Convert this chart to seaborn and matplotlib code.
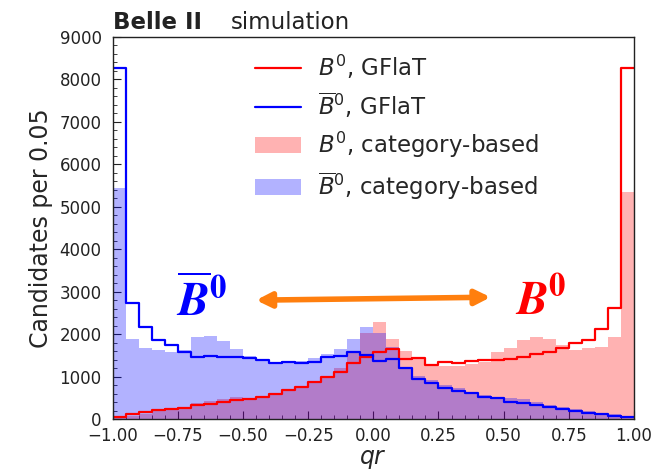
import numpy as np
import pandas as pd
import matplotlib
matplotlib.use('Agg')
import matplotlib.pyplot as plt
import seaborn as sns
from matplotlib.lines import Line2D
from matplotlib.patches import Patch

# 40 bins of width 0.05 on qr in [-1, 1]
bin_edges = np.linspace(-1.0, 1.0, 41)
bin_centers = 0.5 * (bin_edges[:-1] + bin_edges[1:])

# B0, GFlaT (red step)
b0_gflat = [54, 110, 165, 205, 229, 252, 323, 362, 402, 441,
            473, 528, 591, 686, 749, 883, 980, 1110, 1316, 1473,
            1570, 1655, 1420, 1435, 1277, 1355, 1331, 1379, 1395, 1385,
            1411, 1458, 1537, 1576, 1671, 1789, 1852, 2130, 2617, 8267]

# B0bar, GFlaT (blue step)
b0bar_gflat = [8270, 2740, 2160, 1868, 1750, 1576, 1458, 1489, 1458, 1458,
               1435, 1380, 1316, 1348, 1332, 1350, 1455, 1495, 1590, 1505,
               1365, 1411, 1200, 940, 843, 725, 670, 607, 528, 505,
               410, 370, 331, 276, 229, 189, 150, 110, 71, 40]

# B0, category-based (red fill)
b0_cat = [40, 80, 130, 180, 210, 240, 380, 420, 470, 510,
          500, 540, 600, 680, 750, 870, 980, 1198, 1560, 2030,
          2286, 1884, 1600, 1435, 1277, 1245, 1260, 1300, 1340, 1591,
          1671, 1852, 1931, 1884, 1749, 1631, 1671, 1700, 1940, 5350]

# B0bar, category-based (blue fill)
b0bar_cat = [5430, 1891, 1671, 1631, 1591, 1615, 1931, 1962, 1828, 1647,
             1489, 1418, 1355, 1379, 1379, 1434, 1528, 1655, 1891, 2159,
             2026, 1695, 1198, 1017, 922, 804, 725, 646, 567, 528,
             488, 473, 410, 331, 276, 229, 189, 150, 110, 55]

labels = [r'$B^0$, GFlaT', r'$\overline{B}^0$, GFlaT',
          r'$B^0$, category-based', r'$\overline{B}^0$, category-based']

df = pd.DataFrame({'qr': bin_centers, 'b0_gflat': b0_gflat,
                   'b0bar_gflat': b0bar_gflat, 'b0_cat': b0_cat,
                   'b0bar_cat': b0bar_cat})
edges = list(bin_edges)

sns.set_style('ticks')
plt.rcParams['font.family'] = ['DejaVu Sans']
# Times-like bold italic math for the big B labels only (math_fontfamily='custom')
plt.rcParams['mathtext.it'] = 'STIXGeneral:italic:bold'
plt.rcParams['mathtext.rm'] = 'STIXGeneral:bold'
plt.rcParams['mathtext.bf'] = 'STIXGeneral:bold'

fig = plt.figure(figsize=(6.59, 4.73), dpi=100)
ax = fig.add_axes([0.171, 0.114, 0.791, 0.808])

# filled histograms first, then step outlines
sns.histplot(data=df, x='qr', weights='b0_cat', bins=edges, element='bars',
             color='red', alpha=0.3, linewidth=0, ax=ax)
sns.histplot(data=df, x='qr', weights='b0bar_cat', bins=edges, element='bars',
             color='blue', alpha=0.3, linewidth=0, ax=ax)
sns.histplot(data=df, x='qr', weights='b0_gflat', bins=edges, element='step',
             fill=False, color='red', linewidth=1.6, ax=ax)
sns.histplot(data=df, x='qr', weights='b0bar_gflat', bins=edges, element='step',
             fill=False, color='blue', linewidth=1.6, ax=ax)

ax.set_xlim(-1, 1)
ax.set_ylim(0, 9000)
ax.set_xticks([-1, -0.75, -0.5, -0.25, 0, 0.25, 0.5, 0.75, 1])
ax.set_xticklabels(['−1.00', '−0.75', '−0.50', '−0.25', '0.00', '0.25', '0.50', '0.75', '1.00'])
ax.set_xticks(np.arange(-1, 1.001, 0.05), minor=True)
ax.set_yticks(np.arange(0, 9001, 1000))
ax.set_yticks(np.arange(0, 9001, 200), minor=True)
ax.tick_params(which='both', direction='in', labelsize=12, colors='#222222')
ax.tick_params(which='major', length=6)
ax.tick_params(which='minor', length=3)
ax.tick_params(axis='y', which='major', pad=8)
ax.tick_params(axis='x', which='major', pad=6)
for s in ax.spines.values():
    s.set_color('#222222')
    s.set_linewidth(1.0)

ax.set_xlabel(r'$qr$', fontsize=17, labelpad=1)
ax.set_ylabel('Candidates per 0.05', fontsize=17, labelpad=5)

ax.text(0.0, 1.008, 'Belle II', transform=ax.transAxes, fontsize=16.5,
        fontweight='bold', ha='left', va='bottom', color='#222222')
ax.text(0.227, 1.008, 'simulation', transform=ax.transAxes, fontsize=16.5,
        ha='left', va='bottom', color='#222222')

handles = [Line2D([], [], color='red', lw=1.6),
           Line2D([], [], color='blue', lw=1.6),
           Patch(facecolor='red', alpha=0.3, edgecolor='none'),
           Patch(facecolor='blue', alpha=0.3, edgecolor='none')]
ax.legend(handles, labels, loc='upper center', bbox_to_anchor=(0.546, 1.012),
          frameon=False, fontsize=16.5, handlelength=2.0, labelspacing=0.42,
          handletextpad=0.75)

ax.annotate('', xy=(0.45, 2870), xytext=(-0.45, 2800),
            arrowprops=dict(arrowstyle='<|-|>', color='#ff7f0e', lw=4,
                            mutation_scale=22, shrinkA=0, shrinkB=0))
ax.text(-0.758, 2400, r'$\overline{B}^{\mathbf{0}}$', color='blue',
        fontsize=34, ha='left', va='baseline', math_fontfamily='custom')
ax.text(0.545, 2450, r'$B^{\!\mathbf{0}}$', color='red',
        fontsize=34, ha='left', va='baseline', math_fontfamily='custom')

fig.savefig('out.png', dpi=100)
